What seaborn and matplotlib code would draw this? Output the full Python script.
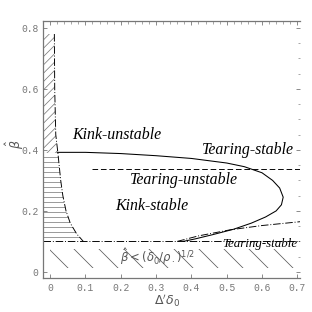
import numpy as np
import pandas as pd
import matplotlib
matplotlib.use('Agg')
import matplotlib.pyplot as plt
from matplotlib.ticker import MultipleLocator
import seaborn as sns

# solid curve: kink / tearing boundary (upper branch, nose, lower branch)
solid_x = [0.02, 0.1, 0.2, 0.3, 0.4, 0.5, 0.55, 0.6, 0.63, 0.65, 0.66, 0.655, 0.64, 0.61, 0.57, 0.52, 0.46, 0.41, 0.377]
solid_y = [0.392, 0.392, 0.388, 0.381, 0.372, 0.357, 0.345, 0.325, 0.30, 0.275, 0.245, 0.22, 0.20, 0.18, 0.16, 0.14, 0.122, 0.108, 0.10]

# dash-dot curve near left axis (hatched region boundary)
left_x = [0.012, 0.013, 0.016, 0.022, 0.03, 0.036, 0.045, 0.057, 0.075, 0.094]
left_y = [0.78, 0.60, 0.45, 0.39, 0.30, 0.25, 0.20, 0.16, 0.125, 0.10]

# dash-dot curve rising on the right
rise_x = [0.36, 0.42, 0.51, 0.60, 0.72]
rise_y = [0.10, 0.118, 0.138, 0.152, 0.166]

# dashed horizontal line (tearing threshold)
dash_x = [0.12, 0.72]
dash_y = [0.338, 0.338]

beta_min = 0.1

xticks = [0, 0.1, 0.2, 0.3, 0.4, 0.5, 0.6, 0.7]
yticks = [0, 0.2, 0.4, 0.6, 0.8]
xlabels = ['0', '0.1', '0.2', '0.3', '0.4', '0.5', '0.6', '0.7']
ylabels = ['0', '0.2', '0.4', '0.6', '0.8']

plt.rcParams['hatch.linewidth'] = 0.35
sns.set_style('ticks')

fig = plt.figure(figsize=(2.08, 2.08), dpi=150)
ax = fig.add_axes([0.138, 0.109, 0.824, 0.824])

dashdot = (0, (8, 2, 1, 2))
sns.lineplot(x=solid_x, y=solid_y, sort=False, color='black', lw=0.5, ax=ax)
sns.lineplot(x=left_x, y=left_y, sort=False, color='black', lw=0.45,
             linestyle=dashdot, ax=ax)
sns.lineplot(x=rise_x, y=rise_y, sort=False, color='black', lw=0.45,
             linestyle=dashdot, ax=ax)
sns.lineplot(x=dash_x, y=dash_y, sort=False, color='black', lw=0.45,
             linestyle=(0, (6, 3)), ax=ax)
ax.axhline(beta_min, color='black', lw=0.45, linestyle=dashdot)

# hatched region left of the dash-dot curve
ly = np.array(left_y)
lx = np.array(left_x)
up = ly >= 0.39
ax.fill_betweenx(ly[up], -0.02, lx[up], facecolor='none', edgecolor='#777777',
                 hatch='//////', linewidth=0)
lo = ly <= 0.39
ax.fill_betweenx(ly[lo], -0.02, lx[lo], facecolor='none', edgecolor='#777777',
                 hatch='-----', linewidth=0)

# sparse hatching below beta = 0.1
ax.fill_between([0.0, 0.7], 0.012, 0.075, facecolor='none', edgecolor='#555555',
                hatch='\\\\', linewidth=0)

serif = dict(family='Liberation Serif', style='italic', color='black')
ax.text(0.062, 0.449, 'Kink-unstable', fontsize=7.6, va='center', **serif)
ax.text(0.43, 0.40, 'Tearing-stable', fontsize=7.6, va='center', **serif)
ax.text(0.227, 0.302, 'Tearing-unstable', fontsize=7.6, va='center', **serif)
ax.text(0.184, 0.216, 'Kink-stable', fontsize=7.6, va='center', **serif)
ax.text(0.487, 0.092, 'Tearing-stable', fontsize=6.2, va='center', **serif)
ax.text(0.198, 0.05, r'$\hat{\beta}<(\delta_0/\rho_\cdot)^{1/2}$', fontsize=5.6,
        va='center', color='#555555')

ax.set_xlim(-0.02, 0.708)
ax.set_ylim(-0.02, 0.823)
ax.set_xticks(xticks)
ax.set_yticks(yticks)
ax.set_xticklabels(xlabels)
ax.set_yticklabels(ylabels)
ax.tick_params(direction='in', length=2, width=0.4, colors='#777777',
               labelsize=4.6, pad=2.2, top=True, right=True)
ax.xaxis.set_minor_locator(MultipleLocator(0.02))
ax.yaxis.set_minor_locator(MultipleLocator(0.05))
ax.tick_params(which='minor', direction='in', length=1.2, width=0.4,
               colors='#999999', bottom=False, left=False, top=True, right=True)
for t in ax.get_xticklabels() + ax.get_yticklabels():
    t.set_family('Liberation Mono')
ax.set_xlabel(r"$\Delta'\delta_0$", fontsize=6, color='#555555')
ax.set_ylabel(r'$\hat{\beta}$', fontsize=6, color='#555555')
ax.xaxis.set_label_coords(0.482, -0.055)
ax.yaxis.set_label_coords(-0.068, 0.52)

for s in ['left', 'bottom', 'top']:
    ax.spines[s].set_color('#777777')
    ax.spines[s].set_linewidth(0.6)
ax.spines['right'].set_visible(False)

fig.savefig('out.png', dpi=150)
